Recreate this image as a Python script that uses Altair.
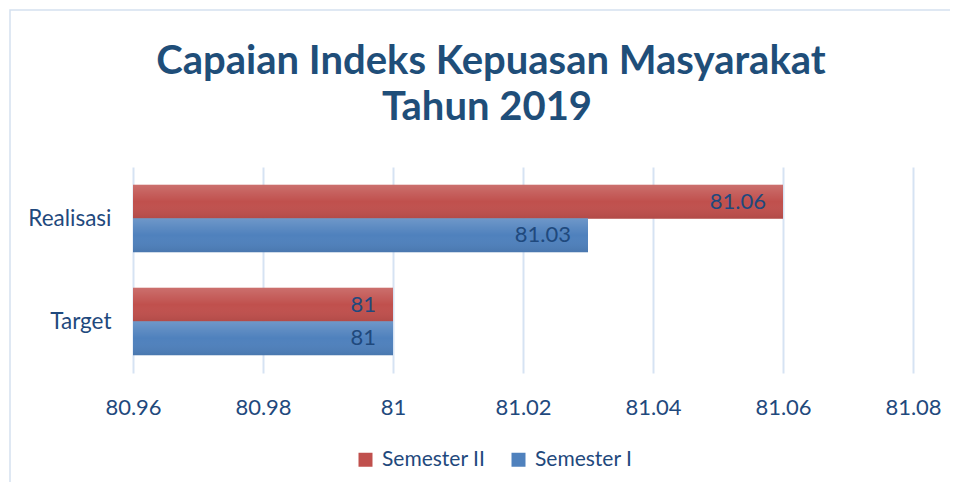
import altair as alt
import pandas as pd

categories = ["Realisasi", "Realisasi", "Target", "Target"]
series = ["Semester II", "Semester I", "Semester II", "Semester I"]
values = [81.06, 81.03, 81.00, 81.00]
labels = ["81.06", "81.03", "81", "81"]
tick_values = [80.96, 80.98, 81.00, 81.02, 81.04, 81.06, 81.08]
title_lines = ["Capaian Indeks Kepuasan Masyarakat", "Tahun 2019"]

df = pd.DataFrame({"cat": categories, "series": series, "value": values, "label": labels})
base_val = 80.96
df["base"] = base_val

FONT = "Lato"
TXT = "#1F497D"

x_scale = alt.Scale(domain=[80.96, 81.08], nice=False, zero=False)
y_enc = alt.Y("cat:N", sort=["Realisasi", "Target"],
              scale=alt.Scale(paddingInner=0.35, paddingOuter=0.175),
              axis=alt.Axis(title=None, ticks=False, domain=False, labelFont=FONT,
                            labelFontSize=22.5, labelColor=TXT, labelPadding=22))
yoff = alt.YOffset("series:N", sort=["Semester II", "Semester I"],
                   scale=alt.Scale(paddingInner=0, paddingOuter=0))

one = pd.DataFrame({"a": [0]})
border = alt.Chart(one).mark_rect(
    fill="transparent", stroke="#D5E1F0", strokeWidth=1.5
).encode(x=alt.value(-123), x2=alt.value(2000), y=alt.value(-157), y2=alt.value(1000))

title1 = alt.Chart(one).mark_text(font=FONT, fontSize=40, fontWeight="bold", color="#1F4E79",
                                  align="center", baseline="middle").encode(
    x=alt.value(358), y=alt.value(-105), text=alt.value(title_lines[0]))
title2 = alt.Chart(one).mark_text(font=FONT, fontSize=40, fontWeight="bold", color="#1F4E79",
                                  align="center", baseline="middle").encode(
    x=alt.value(354), y=alt.value(-59), text=alt.value(title_lines[1]))

bars = alt.Chart(df).mark_bar(size=34).encode(
    x=alt.X("value:Q", scale=x_scale,
            axis=alt.Axis(values=tick_values, format=".4~r", title=None, ticks=False, domain=False,
                          grid=True, gridColor="#D6E3F3", gridWidth=2, labelFlush=False,
                          labelFont=FONT, labelFontSize=22, labelColor=TXT, labelPadding=24)),
    x2="base:Q",
    y=y_enc,
    yOffset=yoff,
    color=alt.Color("series:N", sort=["Semester II", "Semester I"],
                    scale=alt.Scale(domain=["Semester II", "Semester I"], range=["#C0504D", "#4F81BD"]),
                    legend=alt.Legend(title=None, orient="none", direction="horizontal",
                                      legendX=222, legendY=282, symbolType="square", symbolSize=196,
                                      symbolStrokeWidth=0, labelFont=FONT, labelFontSize=21,
                                      labelColor=TXT, columnPadding=22, labelOffset=6)),
)

shade = alt.Chart(df).mark_bar(
    size=34,
    color=alt.Gradient(gradient="linear", x1=0, y1=0, x2=0, y2=1,
                       stops=[alt.GradientStop(color="rgba(255,255,255,0.18)", offset=0),
                              alt.GradientStop(color="rgba(255,255,255,0.0)", offset=0.5),
                              alt.GradientStop(color="rgba(0,0,0,0.08)", offset=1)])
).encode(x=alt.X("value:Q", scale=x_scale), x2="base:Q", y=alt.Y("cat:N", sort=["Realisasi", "Target"]),
         yOffset=yoff)

text = alt.Chart(df).mark_text(align="right", baseline="middle", dx=-17, font=FONT, fontSize=22,
                               color=TXT).encode(
    x=alt.X("value:Q", scale=x_scale), y=alt.Y("cat:N", sort=["Realisasi", "Target"]),
    yOffset=yoff, text="label:N")

chart = alt.layer(border, bars, shade, text, title1, title2).properties(
    width=780, height=206,
    autosize=alt.AutoSizeParams(type="none"),
    padding={"left": 125, "top": 159, "right": 37, "bottom": 109},
).configure_view(stroke=None)

chart.save("out.html", embed_options={"renderer": "svg", "actions": False})
